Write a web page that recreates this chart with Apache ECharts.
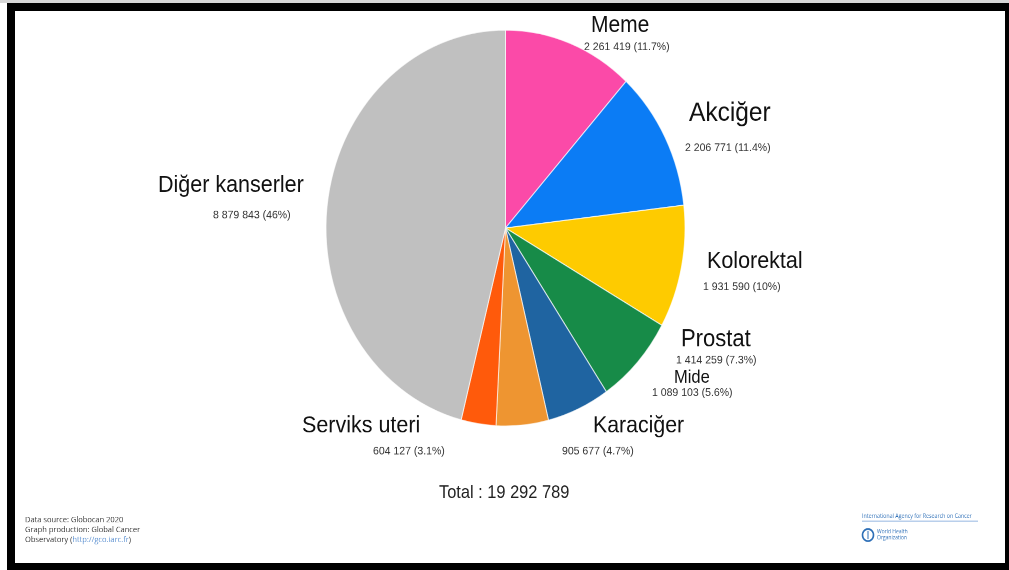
<!DOCTYPE html>
<html>
<head>
<meta charset="utf-8">
<script src="https://cdn.jsdelivr.net/npm/echarts@6/dist/echarts.min.js"></script>
<style>
html,body{margin:0;padding:0;width:1009px;height:570px;overflow:hidden;background:#fff;}
#topstrip{position:absolute;left:0;top:0;width:1009px;height:3px;background:#d6d6d6;}
#frame{position:absolute;left:7px;top:3px;width:1006px;height:568px;box-sizing:border-box;border:8px solid #000;pointer-events:none;z-index:5;}
#chart{position:absolute;left:0;top:0;width:1009px;height:517px;transform:scaleY(1.103);transform-origin:0 0;}
</style>
</head>
<body>
<div id="topstrip"></div>
<div id="chart"></div>
<div id="frame"></div>
<script>
// ---- data ----
const categories = ['Meme', 'Akciğer', 'Kolorektal', 'Prostat', 'Mide', 'Karaciğer', 'Serviks uteri', 'Diğer kanserler'];
const values = [2261419, 2206771, 1931590, 1414259, 1089103, 905677, 604127, 8879843];
const footerLines = ['Data source: Globocan 2020', 'Graph production: Global Cancer', 'Observatory ('];
const footerLink = 'http://gco.iarc.fr';
const totalLabel = 'Total : ';

// ---- styles / layout ----
const SY = 1.103;
const colors = ['#fb4aa8', '#0b7cf5', '#fecb00', '#178b48', '#1f64a1', '#ee9531', '#ff5a0b', '#c0c0c0'];
const nameFont = [21, 24.5, 21.5, 22, 16.5, 21.3, 21.5, 21.5];
const namePos = [[591, 25.5], [689, 113.5], [707, 261.5], [681, 339.5], [674, 377.5], [593, 426], [302, 426], [158, 185.5]];
const valuePos = [[584, 47], [685, 148], [703, 287], [676, 360], [652, 393], [562, 451], [373, 451], [213, 215]];

const fmt = v => String(v).replace(/\B(?=(\d{3})+(?!\d))/g, ' ');
const total = values.reduce((a, b) => a + b, 0);
const pct = v => parseFloat((v / total * 100).toFixed(1)) + '%';

const FONT = '"Liberation Sans", Arial, sans-serif';
const chart = echarts.init(document.getElementById('chart'), null, {renderer: 'canvas', devicePixelRatio: 2});

const nameData = categories.map((c, i) => ({
  name: c, value: values[i],
  itemStyle: {color: colors[i]},
  label: {fontSize: nameFont[i]}
}));
const valueData = categories.map((c, i) => ({name: c, value: values[i]}));

const pieCommon = {
  type: 'pie',
  center: [505.5, 228 / SY],
  radius: 179.5,
  startAngle: 90,
  clockwise: true,
  avoidLabelOverlap: false,
  animation: false,
  emphasis: {disabled: true},
  labelLine: {show: false}
};

chart.setOption({
  animation: false,
  series: [
    Object.assign({}, pieCommon, {
      name: 'names',
      data: nameData,
      itemStyle: {borderColor: 'rgba(255,255,255,0.7)', borderWidth: 1},
      label: {show: true, position: 'outside', formatter: '{b}', color: '#111', fontFamily: FONT},
      labelLayout: p => ({x: namePos[p.dataIndex][0], y: namePos[p.dataIndex][1] / SY, align: 'left', verticalAlign: 'middle'})
    }),
    Object.assign({}, pieCommon, {
      name: 'values',
      silent: true,
      data: valueData,
      itemStyle: {color: 'rgba(0,0,0,0)', borderWidth: 0},
      label: {show: true, position: 'outside', color: '#333', fontSize: 10.5, fontFamily: FONT,
        formatter: p => fmt(p.value) + ' (' + pct(p.value) + ')'},
      labelLayout: p => ({x: valuePos[p.dataIndex][0], y: valuePos[p.dataIndex][1] / SY, align: 'left', verticalAlign: 'middle'})
    })
  ],
  graphic: [
    {type: 'text', left: 439, top: 484 / SY, style: {text: totalLabel + fmt(total), fontSize: 16.4, fontFamily: FONT, fill: '#222'}},
    {type: 'text', x: 25, y: 520 / SY, style: {text: footerLines[0], fontSize: 7.5, fontFamily: '"Open Sans", sans-serif', fill: '#333', verticalAlign: 'middle'}},
    {type: 'text', x: 25, y: 530 / SY, style: {text: footerLines[1], fontSize: 7.5, fontFamily: '"Open Sans", sans-serif', fill: '#333', verticalAlign: 'middle'}},
    {type: 'text', x: 25, y: 540 / SY, style: {
      text: footerLines[2] + '{l|' + footerLink + '}' + ')', fontSize: 7.5, fontFamily: '"Open Sans", sans-serif', fill: '#333', verticalAlign: 'middle',
      rich: {l: {fill: '#5a8fd0', fontSize: 7.5, fontFamily: '"Open Sans", sans-serif'}}}},
    {type: 'text', x: 862, y: 516 / SY, style: {text: 'International Agency for Research on Cancer', fontSize: 5.3, fontFamily: '"Open Sans", sans-serif', fill: '#2d6fb7', verticalAlign: 'middle'}},
    {type: 'line', shape: {x1: 862, y1: 521 / SY, x2: 978, y2: 521 / SY}, style: {stroke: '#6d9ad6', lineWidth: 0.8}},
    {type: 'circle', shape: {cx: 868, cy: 535 / SY, r: 5.5}, style: {fill: '#fff', stroke: '#2d6fb7', lineWidth: 1.6}},
    {type: 'line', shape: {x1: 868, y1: 531 / SY, x2: 868, y2: 539 / SY}, style: {stroke: '#2d6fb7', lineWidth: 1}},
    {type: 'text', x: 877, y: 532 / SY, style: {text: 'World Health', fontSize: 5, fontFamily: '"Open Sans", sans-serif', fill: '#2d6fb7', verticalAlign: 'middle'}},
    {type: 'text', x: 877, y: 538 / SY, style: {text: 'Organization', fontSize: 5, fontFamily: '"Open Sans", sans-serif', fill: '#2d6fb7', verticalAlign: 'middle'}}
  ]
});
</script>
</body>
</html>
